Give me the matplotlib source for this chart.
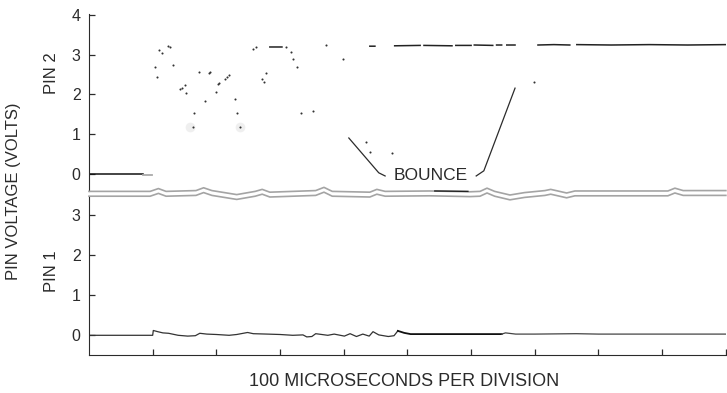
import matplotlib
matplotlib.use('Agg')
from matplotlib import pyplot as plt
import numpy as np

plt.rcParams['font.family'] = ['Liberation Sans', 'DejaVu Sans']
INK = '#2b2b2b'

# time axis in divisions (100 us each)
divisions = np.arange(0, 11)

# pin 2: low level before the switch closes
pin2_low_x = [0.0, 0.85]
pin2_low_y = [0.0, 0.0]
pin2_fade_x = [0.85, 0.99]
pin2_fade_y = [-0.03, -0.03]

# pin 2: scattered samples while the contact bounces
bounce_x = [1.10, 1.15, 1.24, 1.27, 1.04, 1.07, 1.32, 1.43, 1.46, 1.51, 1.52,
            1.73, 1.88, 1.90, 2.03, 2.04, 2.14, 2.17, 2.20, 1.99, 1.82, 1.65,
            1.63, 2.29, 2.32, 2.37, 2.57, 2.62, 3.09, 3.17, 3.20, 3.27, 2.78,
            2.72, 2.75, 3.33, 3.52, 3.72, 3.99, 4.35, 4.41, 4.76, 6.99]
bounce_y = [3.12, 3.05, 3.22, 3.20, 2.69, 2.44, 2.74, 2.14, 2.16, 2.24, 2.04,
            2.57, 2.54, 2.57, 2.27, 2.29, 2.39, 2.44, 2.49, 2.06, 1.84, 1.53,
            1.18, 1.89, 1.53, 1.18, 3.15, 3.20, 3.20, 3.07, 2.90, 2.69, 2.54,
            2.39, 2.32, 1.53, 1.58, 3.25, 2.90, 0.80, 0.55, 0.52, 2.32]
smudge_x = [1.59, 2.37]
smudge_y = [1.18, 1.18]

# pin 2: high level, broken trace
pin2_high_x = [2.84, 3.03, np.nan, 4.41, 4.49, np.nan, 4.80, 5.20, np.nan,
               5.26, 5.70, np.nan, 5.76, 6.00, np.nan, 6.05, 6.34, np.nan,
               6.40, 6.48, np.nan, 6.56, 6.69, np.nan, 7.05, 7.30, 7.55,
               np.nan, 7.66, 8.20, 8.80, 9.40, 10.0]
pin2_high_y = [3.20, 3.20, np.nan, 3.22, 3.22, np.nan, 3.23, 3.24, np.nan,
               3.24, 3.23, np.nan, 3.24, 3.24, np.nan, 3.25, 3.24, np.nan,
               3.25, 3.25, np.nan, 3.25, 3.25, np.nan, 3.25, 3.26, 3.25,
               np.nan, 3.26, 3.25, 3.26, 3.25, 3.26]

# pin 1: stays near zero with small wiggles
pin1_x = [0.0, 0.93, 1.0, 1.01, 1.08, 1.16, 1.25, 1.40, 1.55, 1.67, 1.74,
          1.85, 2.00, 2.20, 2.32, 2.49, 2.58, 2.80, 3.00, 3.20, 3.36, 3.42,
          3.50, 3.56, 3.75, 3.85, 4.01, 4.10, 4.20, 4.30, 4.40, 4.46, 4.55,
          4.70, 4.79, 4.85]
pin1_y = [0.0, 0.0, 0.0, 0.12, 0.09, 0.06, 0.05, 0.0, -0.02, -0.01, 0.05,
          0.03, 0.02, 0.0, 0.02, 0.07, 0.04, 0.03, 0.02, 0.0, 0.01, -0.04,
          -0.03, 0.04, 0.0, 0.03, -0.02, 0.04, -0.03, 0.03, -0.02, 0.09, 0.01,
          -0.03, -0.01, 0.11]
pin1_solid_x = [4.85, 4.95, 5.05, 5.50, 6.00, 6.48]
pin1_solid_y = [0.11, 0.06, 0.03, 0.03, 0.03, 0.03]
pin1_tail_x = [6.48, 6.54, 6.70, 7.00, 7.65, 8.00, 9.00, 10.0]
pin1_tail_y = [0.03, 0.06, 0.03, 0.03, 0.04, 0.03, 0.03, 0.03]

# wavy break between the two panels (offsets in volts of pin 1 scale)
break_x = [0.0, 0.96, 1.09, 1.21, 1.68, 1.80, 1.93, 2.32, 2.61, 2.72, 2.84,
           3.56, 3.69, 3.82, 4.41, 4.52, 4.65, 5.35, 5.98, 6.14, 6.25, 6.37,
           6.61, 6.84, 7.16, 7.25, 7.39, 7.50, 7.63, 9.09, 9.20, 9.33, 10.0]
break_dy = [0.0, 0.0, 0.07, 0.0, 0.02, 0.09, 0.02, -0.08, 0.0, 0.05, -0.02,
            0.02, 0.10, 0.0, -0.02, 0.05, 0.0, 0.01, -0.01, 0.0, 0.08, 0.0,
            -0.09, -0.03, 0.02, 0.05, 0.0, -0.04, 0.01, 0.01, 0.08, 0.02, 0.02]

fig = plt.figure(figsize=(7.27, 3.93), dpi=100)
ax2 = fig.add_axes([0.1224, 0.514, 0.876, 0.450])
ax1 = fig.add_axes([0.1224, 0.0967, 0.876, 0.402], sharex=ax2)

for ax in (ax1, ax2):
    ax.set_facecolor('none')
    ax.spines['top'].set_visible(False)
    ax.spines['right'].set_visible(False)
    ax.spines['left'].set_color(INK)
    ax.spines['bottom'].set_color(INK)
    ax.tick_params(direction='in', length=4, width=0.9, color=INK,
                   labelsize=11.5, labelcolor=INK, pad=6)

ax2.spines['bottom'].set_visible(False)
ax2.tick_params(axis='x', bottom=False, labelbottom=False)
ax2.set_xlim(0, 10)
ax2.set_ylim(-0.44, 4.03)
ax2.set_yticks([0, 1, 2, 3, 4])

ax1.set_ylim(-0.49, 3.44)
ax1.set_yticks([0, 1, 2, 3])
ax1.set_xticks(divisions[1:])
ax1.tick_params(axis='x', labelbottom=False)

# pin 2 traces
ax2.plot(pin2_low_x, pin2_low_y, color='#111111', lw=1.1)
ax2.plot(pin2_fade_x, pin2_fade_y, color='#aaaaaa', lw=1.3)
ax2.plot(smudge_x, smudge_y, 'o', ms=7, color='#efefef', mec='none')
ax2.plot(bounce_x, bounce_y, 'o', ms=1.5, color='#333333', mec='none')
ax2.plot(pin2_high_x, pin2_high_y, color='#222222', lw=1.1)

# bounce callout
ax2.text(5.37, -0.06, 'BOUNCE', ha='center', va='center', fontsize=12.5,
         color=INK)
ax2.plot([4.08, 4.55, 4.65], [0.90, 0.02, -0.06], color=INK, lw=0.9,
         clip_on=False)
ax2.plot([6.69, 6.20, 6.08], [2.16, 0.07, -0.06], color=INK, lw=0.9,
         clip_on=False)

# pin 1 traces
ax1.plot(pin1_x, pin1_y, color='#333333', lw=0.9)
ax1.plot(pin1_solid_x, pin1_solid_y, color='#111111', lw=1.3)
ax1.plot(pin1_tail_x, pin1_tail_y, color='#444444', lw=0.9)

# break band between panels
brk = np.array(break_dy)
ax1.plot(break_x, 3.58 + brk, color='#a4a4a4', lw=1.2, clip_on=False)
ax1.plot(break_x, 3.46 + brk, color='#a4a4a4', lw=1.2, clip_on=False)
ax1.plot([5.43, 5.95], [3.59, 3.58], color='#222222', lw=1.0, clip_on=False)

fig.text(14 / 727, 1 - 191 / 393, 'PIN VOLTAGE (VOLTS)', rotation=90,
         ha='center', va='center', fontsize=12, color=INK)
fig.text(52 / 727, 1 - 73 / 393, 'PIN 2', rotation=90,
         ha='center', va='center', fontsize=12, color=INK)
fig.text(52 / 727, 1 - 271 / 393, 'PIN 1', rotation=90,
         ha='center', va='center', fontsize=12, color=INK)
fig.text(404 / 727, 1 - 381 / 393, '100 MICROSECONDS PER DIVISION',
         ha='center', va='center', fontsize=13, color=INK)

fig.savefig('out.png', dpi=100)
